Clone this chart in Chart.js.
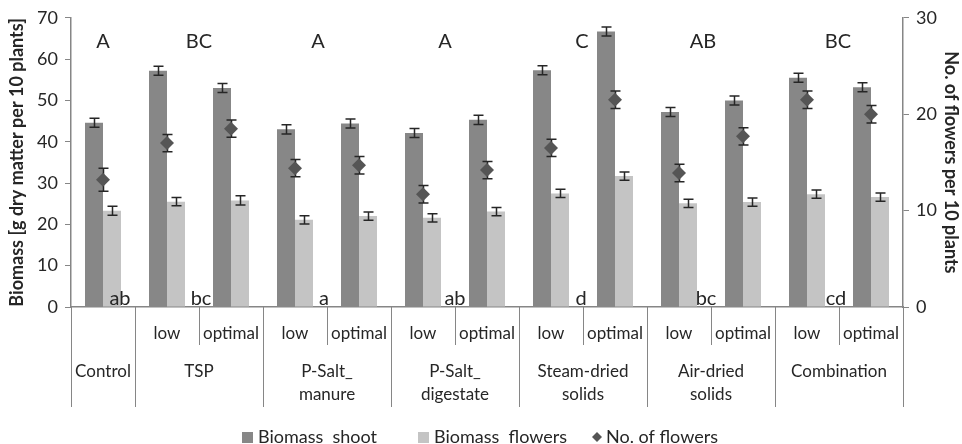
<!DOCTYPE html>
<html>
<head>
<meta charset="utf-8">
<script src="https://cdn.jsdelivr.net/npm/chart.js@4/dist/chart.umd.min.js"></script>
<style>
  html, body { margin: 0; padding: 0; background: #fff; }
  #wrap { width: 962px; height: 444px; position: relative; }
</style>
</head>
<body>
<div id="wrap"><canvas id="chart"></canvas></div>
<script>
// treatments, one entry per bar pair
const categories = [
  "Control",
  "TSP low", "TSP optimal",
  "P-Salt_manure low", "P-Salt_manure optimal",
  "P-Salt_digestate low", "P-Salt_digestate optimal",
  "Steam-dried solids low", "Steam-dried solids optimal",
  "Air-dried solids low", "Air-dried solids optimal",
  "Combination low", "Combination optimal",
];
const subLabels = ["", "low", "optimal", "low", "optimal", "low", "optimal", "low", "optimal", "low", "optimal", "low", "optimal"];
const groupNames = [["Control"], ["TSP"], ["P-Salt_", "manure"], ["P-Salt_", "digestate"], ["Steam-dried", "solids"], ["Air-dried", "solids"], ["Combination"]];
const groupSizes = [1, 2, 2, 2, 2, 2, 2];

const biomassShoot = [44.6, 57.2, 53.0, 43.0, 44.4, 42.1, 45.3, 57.3, 66.7, 47.2, 50.0, 55.5, 53.2];
const biomassShootErr = [1.1, 1.1, 1.1, 1.1, 1.1, 1.1, 1.1, 1.1, 1.1, 1.1, 1.1, 1.1, 1.1];
const biomassFlowers = [23.3, 25.5, 25.8, 21.1, 22.0, 21.6, 23.1, 27.5, 31.7, 25.1, 25.4, 27.3, 26.6];
const biomassFlowersErr = [1.1, 1.0, 1.1, 1.0, 1.0, 1.0, 1.0, 1.0, 1.0, 1.0, 1.0, 1.0, 1.0];
const noFlowers = [13.2, 17.0, 18.5, 14.4, 14.7, 11.7, 14.2, 16.5, 21.5, 13.9, 17.7, 21.5, 20.0];
const noFlowersErr = [1.2, 0.9, 0.9, 0.9, 0.9, 0.9, 0.9, 0.9, 0.9, 0.9, 0.9, 0.9, 0.9];

// significance letters per group
const upperLetters = ["A", "BC", "A", "A", "C", "AB", "BC"];
const lowerLetters = ["ab", "bc", "a", "ab", "d", "bc", "cd"];

const yTicks = [0, 10, 20, 30, 40, 50, 60, 70];
const y1Ticks = [0, 10, 20, 30];

const FONT = "Lato, 'Open Sans', sans-serif";
const TEXT = "#262626";
const AXIS = "#868686";
const SHOOT = "#878787";
const FLOWERS = "#c4c4c4";
const DIAMOND = "#555555";

const errorBars = {
  id: "errorBars",
  beforeDatasetDraw(chart, args) {
    if (args.index !== 2) return;
    const ctx = chart.ctx;
    const sets = [
      [0, biomassShoot, biomassShootErr, "y"],
      [1, biomassFlowers, biomassFlowersErr, "y"],
      [2, noFlowers, noFlowersErr, "y1"],
    ];
    ctx.save();
    ctx.strokeStyle = "#262626";
    ctx.lineWidth = 1.5;
    sets.forEach(([di, vals, errs, axis]) => {
      const meta = chart.getDatasetMeta(di);
      const scale = chart.scales[axis];
      meta.data.forEach((el, i) => {
        const x = Math.round(el.x) + 0.5;
        const top = scale.getPixelForValue(vals[i] + errs[i]);
        const bot = scale.getPixelForValue(vals[i] - errs[i]);
        ctx.beginPath();
        ctx.moveTo(x, top); ctx.lineTo(x, bot);
        ctx.moveTo(x - 5, top); ctx.lineTo(x + 5, top);
        ctx.moveTo(x - 5, bot); ctx.lineTo(x + 5, bot);
        ctx.stroke();
      });
    });
    ctx.restore();
  },
};

const decorations = {
  id: "decorations",
  afterDraw(chart) {
    const ctx = chart.ctx;
    const x = chart.scales.x;
    const area = chart.chartArea;
    const bottom = area.bottom;
    const half = (x.getPixelForValue(1) - x.getPixelForValue(0)) / 2;

    ctx.save();
    // category dividers below the axis
    ctx.strokeStyle = AXIS;
    ctx.lineWidth = 1;
    let idx = 0;
    const bounds = [];
    groupSizes.forEach((n) => {
      bounds.push([idx, idx + n - 1]);
      idx += n;
    });
    const vline = (px, len) => {
      const xx = Math.round(px) + 0.5;
      ctx.beginPath();
      ctx.moveTo(xx, bottom);
      ctx.lineTo(xx, bottom + len);
      ctx.stroke();
    };
    vline(area.left, 100);
    bounds.forEach(([a, b]) => {
      vline(x.getPixelForValue(b) + half, 100);
      if (b > a) vline(x.getPixelForValue(a) + half, 38);
    });

    ctx.fillStyle = TEXT;
    ctx.textAlign = "center";
    ctx.textBaseline = "middle";
    ctx.font = "17px " + FONT;
    subLabels.forEach((s, i) => {
      if (s) ctx.fillText(s, x.getPixelForValue(i), bottom + 27);
    });
    bounds.forEach(([a, b], g) => {
      const cx = (x.getPixelForValue(a) + x.getPixelForValue(b)) / 2;
      groupNames[g].forEach((line, k) => {
        ctx.fillText(line, cx, bottom + 65 + k * 23);
      });
    });

    // significance letters
    const upperDx = [0, 0, -9, -10, -1, -8, -1];
    const lowerDx = [17, 2, -3, 0, -2, -5, -3];
    ctx.font = "20px " + FONT;
    bounds.forEach(([a, b], g) => {
      const cx = (x.getPixelForValue(a) + x.getPixelForValue(b)) / 2;
      ctx.textBaseline = "middle";
      ctx.fillText(upperLetters[g], cx + upperDx[g], area.top + 24);
      ctx.textBaseline = "alphabetic";
      ctx.fillText(lowerLetters[g], cx + lowerDx[g], bottom - 2);
    });

    // axis titles
    ctx.font = "bold 18px " + FONT;
    ctx.textBaseline = "middle";
    const cy = (area.top + area.bottom) / 2;
    ctx.save();
    ctx.translate(17, cy);
    ctx.rotate(-Math.PI / 2);
    ctx.fillText("Biomass [g dry matter per 10 plants]", 0, 0);
    ctx.restore();
    ctx.save();
    ctx.translate(951, cy);
    ctx.rotate(Math.PI / 2);
    ctx.fillText("No. of flowers per 10 plants", 0, 0);
    ctx.restore();

    // legend
    ctx.font = "18px " + FONT;
    ctx.textAlign = "left";
    const ly = 437;
    ctx.fillStyle = SHOOT;
    ctx.fillRect(242, ly - 5, 11, 11);
    ctx.fillStyle = FLOWERS;
    ctx.fillRect(418, ly - 5, 11, 11);
    ctx.fillStyle = DIAMOND;
    ctx.beginPath();
    ctx.moveTo(597, ly - 5); ctx.lineTo(602, ly); ctx.lineTo(597, ly + 5); ctx.lineTo(592, ly);
    ctx.closePath();
    ctx.fill();
    ctx.fillStyle = TEXT;
    ctx.fillText("Biomass  shoot", 258, ly);
    ctx.fillText("Biomass  flowers", 434, ly);
    ctx.fillText("No. of flowers", 606, ly);
    ctx.restore();
  },
};

new Chart(document.getElementById("chart"), {
  type: "bar",
  data: {
    labels: categories,
    datasets: [
      {
        label: "Biomass  shoot",
        data: biomassShoot,
        backgroundColor: SHOOT,
        yAxisID: "y",
        order: 1,
        barPercentage: 1,
        categoryPercentage: 0.5625,
      },
      {
        label: "Biomass  flowers",
        data: biomassFlowers,
        backgroundColor: FLOWERS,
        yAxisID: "y",
        order: 1,
        barPercentage: 1,
        categoryPercentage: 0.5625,
      },
      {
        type: "line",
        label: "No. of flowers",
        data: noFlowers,
        yAxisID: "y1",
        showLine: false,
        pointStyle: "rectRot",
        pointRadius: 7,
        pointBackgroundColor: DIAMOND,
        pointBorderColor: DIAMOND,
        pointBorderWidth: 0,
        order: 0,
      },
    ],
  },
  options: {
    responsive: true,
    maintainAspectRatio: false,
    animation: false,
    events: [],
    layout: { padding: { top: 16, left: 0, right: 0, bottom: 0 } },
    plugins: {
      legend: { display: false },
      tooltip: { enabled: false },
    },
    scales: {
      x: {
        offset: true,
        grid: { display: false },
        border: { display: true, color: AXIS, width: 1.5 },
        ticks: { display: false },
        afterFit: (s) => { s.height = 137; },
      },
      y: {
        position: "left",
        min: 0,
        max: 70,
        afterBuildTicks: (s) => { s.ticks = yTicks.map((v) => ({ value: v })); },
        grid: { drawOnChartArea: false, tickLength: 6, color: AXIS },
        border: { color: AXIS, width: 1.5 },
        ticks: { color: TEXT, font: { family: FONT, size: 18 }, padding: 7 },
        afterFit: (s) => { s.width = 71; },
      },
      y1: {
        position: "right",
        min: 0,
        max: 30,
        afterBuildTicks: (s) => { s.ticks = y1Ticks.map((v) => ({ value: v })); },
        grid: { drawOnChartArea: false, tickLength: 6, color: AXIS },
        border: { color: AXIS, width: 1.5 },
        ticks: { color: TEXT, font: { family: FONT, size: 18 }, padding: 7 },
        afterFit: (s) => { s.width = 59; },
      },
    },
  },
  plugins: [errorBars, decorations],
});
</script>
</body>
</html>
